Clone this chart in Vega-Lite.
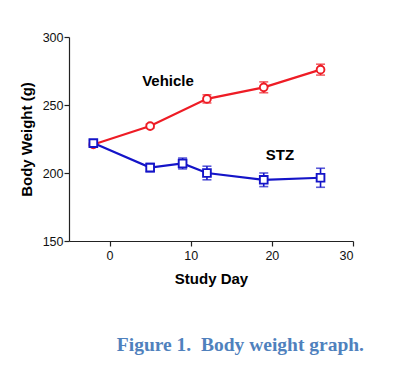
{
  "$schema": "https://vega.github.io/schema/vega-lite/v6.json",
  "autosize": "none",
  "width": 284,
  "height": 204,
  "padding": {"left": 69, "top": 37, "right": 48, "bottom": 128},
  "background": "white",
  "config": {
    "view": {"stroke": null},
    "axis": {"grid": false, "domainColor": "#222", "tickColor": "#222", "labelColor": "#111", "labelFont": "Liberation Sans", "labelFontSize": 12.5, "titleFont": "Liberation Sans", "titleFontSize": 15, "titleFontWeight": "bold", "titleColor": "#000", "tickSize": 5, "domainWidth": 1.2, "tickWidth": 1.2}
  },
  "title": {"text": "Figure 1.\u00a0 Body weight graph.", "orient": "bottom", "anchor": "end", "frame": "group", "dx": 11, "offset": 49, "font": "Liberation Serif", "fontSize": 19.5, "fontWeight": "bold", "color": "#4f81bd"},
  "datasets": {
    "pts": [
      {"group": "Vehicle", "day": -2, "weight": 221, "lo": 219.5, "hi": 222.5},
      {"group": "Vehicle", "day": 5, "weight": 234.5, "lo": 233, "hi": 236},
      {"group": "Vehicle", "day": 12, "weight": 254.5, "lo": 251.5, "hi": 257.5},
      {"group": "Vehicle", "day": 19, "weight": 263, "lo": 259, "hi": 267},
      {"group": "Vehicle", "day": 26, "weight": 276, "lo": 272, "hi": 280},
      {"group": "STZ", "day": -2, "weight": 222, "lo": 220, "hi": 224},
      {"group": "STZ", "day": 5, "weight": 204, "lo": 201, "hi": 207},
      {"group": "STZ", "day": 9, "weight": 207, "lo": 203, "hi": 211},
      {"group": "STZ", "day": 12, "weight": 200, "lo": 195, "hi": 205},
      {"group": "STZ", "day": 19, "weight": 195, "lo": 190, "hi": 200},
      {"group": "STZ", "day": 26, "weight": 196.5, "lo": 189.5, "hi": 203.5}
    ],
    "labels": [
      {"label": "Vehicle", "day": 7.2, "weight": 268},
      {"label": "STZ", "day": 21, "weight": 213}
    ]
  },
  "encoding": {
    "x": {"field": "day", "type": "quantitative", "scale": {"domain": [-5, 30], "nice": false, "zero": false}, "axis": {"values": [0, 10, 20, 30], "title": "Study Day", "labelPadding": 3, "titlePadding": 10}},
    "y": {"field": "weight", "type": "quantitative", "scale": {"domain": [150, 300], "nice": false, "zero": false}, "axis": {"values": [150, 200, 250, 300], "title": "Body Weight (g)", "labelPadding": 1, "titlePadding": 8}}
  },
  "layer": [
    {
      "data": {"name": "pts"},
      "mark": {"type": "rule", "strokeWidth": 1.6},
      "encoding": {
        "y": {"field": "lo", "type": "quantitative"},
        "y2": {"field": "hi"},
        "color": {"field": "group", "type": "nominal", "scale": {"domain": ["Vehicle", "STZ"], "range": ["#ee1c25", "#1414c8"]}, "legend": null}
      }
    },
    {
      "data": {"name": "pts"},
      "mark": {"type": "tick", "orient": "horizontal", "size": 9, "thickness": 1.6},
      "encoding": {
        "y": {"field": "lo", "type": "quantitative"},
        "color": {"field": "group", "type": "nominal", "legend": null}
      }
    },
    {
      "data": {"name": "pts"},
      "mark": {"type": "tick", "orient": "horizontal", "size": 9, "thickness": 1.6},
      "encoding": {
        "y": {"field": "hi", "type": "quantitative"},
        "color": {"field": "group", "type": "nominal", "legend": null}
      }
    },
    {
      "data": {"name": "pts"},
      "mark": {"type": "line", "strokeWidth": 2.2},
      "encoding": {
        "color": {"field": "group", "type": "nominal", "legend": null}
      }
    },
    {
      "data": {"name": "pts"},
      "mark": {"type": "point", "filled": true, "fill": "white", "strokeWidth": 1.9, "size": 60, "opacity": 1},
      "encoding": {
        "stroke": {"field": "group", "type": "nominal", "scale": {"domain": ["Vehicle", "STZ"], "range": ["#ee1c25", "#1414c8"]}, "legend": null},
        "shape": {"field": "group", "type": "nominal", "scale": {"domain": ["Vehicle", "STZ"], "range": ["circle", "square"]}, "legend": null}
      }
    },
    {
      "data": {"name": "labels"},
      "mark": {"type": "text", "font": "Liberation Sans", "fontSize": 15, "fontWeight": "bold", "color": "#000"},
      "encoding": {"text": {"field": "label"}}
    }
  ]
}
